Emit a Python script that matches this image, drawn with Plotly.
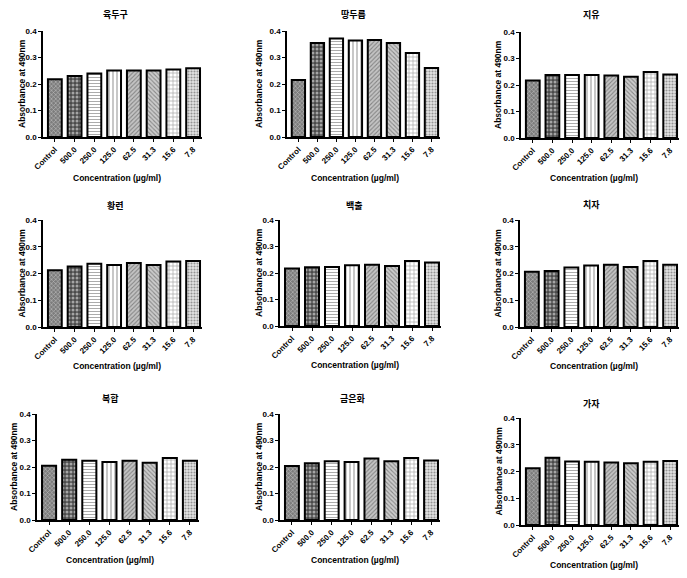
import plotly.graph_objects as go

W, H = 687, 578

categories = ["Control", "500.0", "250.0", "125.0", "62.5", "31.3", "15.6", "7.8"]

titles = ["육두구", "땅두릅", "지유", "황련", "백출", "치자", "복합", "금은화", "가자"]

v_yukdugu = [0.218, 0.230, 0.240, 0.251, 0.251, 0.251, 0.255, 0.259]
v_ttangdureup = [0.215, 0.355, 0.372, 0.364, 0.366, 0.355, 0.317, 0.260]
v_jiyu = [0.217, 0.238, 0.238, 0.238, 0.236, 0.231, 0.249, 0.240]
v_hwangryeon = [0.212, 0.226, 0.236, 0.232, 0.239, 0.232, 0.245, 0.247]
v_baekchul = [0.217, 0.222, 0.223, 0.229, 0.231, 0.226, 0.245, 0.240]
v_chija = [0.207, 0.209, 0.222, 0.230, 0.233, 0.224, 0.247, 0.233]
v_bokhap = [0.205, 0.227, 0.224, 0.219, 0.224, 0.216, 0.234, 0.224]
v_geumeunhwa = [0.204, 0.214, 0.222, 0.219, 0.232, 0.222, 0.234, 0.225]
v_gaja = [0.212, 0.251, 0.237, 0.236, 0.234, 0.231, 0.236, 0.239]

series = [v_yukdugu, v_ttangdureup, v_jiyu, v_hwangryeon, v_baekchul,
          v_chija, v_bokhap, v_geumeunhwa, v_gaja]

y_ticks = [0.0, 0.1, 0.2, 0.3, 0.4]

# pixel layout of each panel: (x_left, x_right, y_zero, y_top)
panels_px = [
    (43, 202, 137, 31), (287, 440, 137, 31), (521, 679, 138, 32),
    (43, 202, 327, 220), (280, 441, 326, 220), (520, 679, 327, 220),
    (37, 199, 520, 414), (280, 440, 520, 414), (521, 679, 525, 418),
]
title_px = [(115, 15), (353, 15), (591, 15), (115, 205), (354, 205), (591, 204),
            (110, 398), (353, 398), (591, 403)]
ytitle_px = [22, 259, 498, 21, 259, 497, 14, 259, 498]
xtitle_px = [(117, 178), (355, 178), (594, 178), (117, 366), (355, 365), (594, 366),
             (110, 560), (355, 560), (594, 565)]

# bar fill styles per category
bar_colors = ["#7c7c7c", "#4a4a4a", "white", "white", "#c4c4c4", "#cccccc", "white", "#e4e4e4"]
pat_shapes = ["x", ".", "-", "|", "/", "\\", "+", "."]
pat_fg = ["#4a4a4a", "white", "black", "black", "#555555", "#555555", "black", "#555555"]
pat_size = [3, 4, 3, 4, 3, 3, 4, 3]
pat_sol = [0.35, 0.45, 0.3, 0.3, 0.35, 0.35, 0.3, 0.4]

FONT = "Liberation Sans, Arial, sans-serif"
KFONT = "Noto Sans CJK KR, sans-serif"

fig = go.Figure()
annotations = []
layout = {}
for i, vals in enumerate(series):
    n = i + 1
    xl, xr, yz, yt = panels_px[i]
    xa = "x" if n == 1 else f"x{n}"
    ya = "y" if n == 1 else f"y{n}"
    fig.add_trace(go.Bar(
        x=categories, y=vals, xaxis=xa, yaxis=ya, width=0.7,
        marker=dict(color=bar_colors,
                    line=dict(color="black", width=2),
                    pattern=dict(shape=pat_shapes, fgcolor=pat_fg, bgcolor=bar_colors,
                                 size=pat_size, solidity=pat_sol, fillmode="overlay")),
        showlegend=False, hoverinfo="x+y"))
    layout[f"xaxis{n}"] = dict(
        domain=[xl / W, xr / W], anchor=ya, type="category",
        categoryorder="array", categoryarray=categories, automargin=False,
        range=[-0.6, 7.45], showline=True, linecolor="black", linewidth=1.5,
        ticks="outside", ticklen=3, tickwidth=1.2, tickcolor="black",
        tickangle=-45, showgrid=False, zeroline=False,
        tickfont=dict(family=FONT, size=8, color="black", weight="bold"))
    layout[f"yaxis{n}"] = dict(
        domain=[1 - yz / H, 1 - yt / H], anchor=xa, range=[0, 0.4], automargin=False,
        tickvals=y_ticks, tickformat=".1f", showline=True, linecolor="black",
        linewidth=1.5, ticks="outside", ticklen=3, tickwidth=1.2, tickcolor="black",
        showgrid=False, zeroline=False,
        tickfont=dict(family=FONT, size=8, color="black", weight="bold"))
    tx, ty = title_px[i]
    annotations.append(dict(text=titles[i], x=tx / W, y=1 - ty / H, xref="paper",
                            yref="paper", showarrow=False, xanchor="center", yanchor="middle",
                            font=dict(family=KFONT, size=9, color="black", weight="bold")))
    annotations.append(dict(text="Absorbance at 490nm", x=ytitle_px[i] / W,
                            y=1 - ((yz + yt) / 2) / H, xref="paper", yref="paper",
                            showarrow=False, textangle=-90, xanchor="center", yanchor="middle",
                            font=dict(family=FONT, size=8.5, color="black", weight="bold")))
    cx, cy = xtitle_px[i]
    annotations.append(dict(text="Concentration (µg/ml)", x=cx / W, y=1 - cy / H,
                            xref="paper", yref="paper", showarrow=False,
                            xanchor="center", yanchor="middle",
                            font=dict(family=FONT, size=8.5, color="black", weight="bold")))

fig.update_layout(width=W, height=H, margin=dict(l=0, r=0, t=0, b=0, autoexpand=False),
                  paper_bgcolor="white", plot_bgcolor="white",
                  annotations=annotations, bargap=0.3, **layout)
fig.write_html("out.html", config={"displayModeBar": False},
               post_script="document.body.style.margin='0';document.body.style.overflow='hidden';")
